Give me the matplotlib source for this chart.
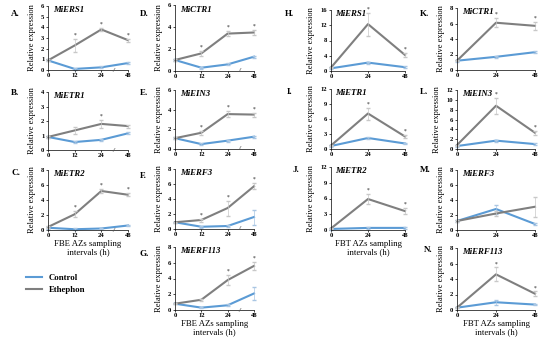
import matplotlib
matplotlib.use("Agg")
import matplotlib.pyplot as plt

plt.rcParams['font.family'] = ['Liberation Serif', 'DejaVu Serif']
plt.rcParams['font.weight'] = 'bold'

# sampling times
fbe_times = ['0', '12', '24', '48']
fbt_times = ['0', '24', '48']

# FBE panels (A-G): control, ethephon, errors
a_ctrl = [0.9, 0.1, 0.25, 0.65]
a_eth = [0.9, 2.3, 3.8, 2.8]
a_eth_err = [0.1, 0.6, 0.15, 0.15]
b_ctrl = [0.9, 0.55, 0.7, 1.15]
b_eth = [0.9, 1.35, 1.8, 1.65]
b_eth_err = [0.1, 0.25, 0.3, 0.1]
c_ctrl = [0.3, 0.1, 0.2, 0.6]
c_eth = [0.4, 2.1, 5.2, 4.7]
c_eth_err = [0.1, 0.4, 0.3, 0.2]
d_ctrl = [1.0, 0.3, 0.6, 1.3]
d_eth = [1.0, 1.6, 3.4, 3.5]
d_eth_err = [0.1, 0.2, 0.25, 0.25]
e_ctrl = [1.1, 0.5, 0.85, 1.25]
e_eth = [1.1, 1.65, 3.55, 3.5]
e_eth_err = [0.1, 0.2, 0.3, 0.2]
f_ctrl = [0.9, 0.3, 0.4, 1.6]
f_eth = [0.9, 1.2, 2.8, 5.7]
f_eth_err = [0.1, 0.2, 1.0, 0.4]
g_ctrl = [0.8, 0.3, 0.6, 2.1]
g_eth = [0.8, 1.3, 3.8, 5.6]
g_eth_err = [0.1, 0.1, 0.6, 0.5]

# FBT panels (H-N)
h_ctrl = [0.7, 2.2, 1.0]
h_eth = [0.9, 12.3, 4.2]
h_eth_err = [0.2, 3.0, 0.5]
i_ctrl = [0.6, 2.2, 1.1]
i_eth = [0.7, 7.1, 2.5]
i_eth_err = [0.1, 1.2, 0.3]
j_ctrl = [0.2, 0.4, 0.4]
j_eth = [0.3, 5.9, 3.6]
j_eth_err = [0.1, 1.0, 0.6]
k_ctrl = [1.2, 1.7, 2.3]
k_eth = [1.2, 6.1, 5.7]
k_eth_err = [0.1, 0.6, 0.5]
l_ctrl = [0.6, 1.7, 1.0]
l_eth = [0.8, 8.8, 3.3]
l_eth_err = [0.1, 1.6, 0.4]
m_ctrl = [1.2, 2.8, 0.8]
m_eth = [1.2, 2.2, 3.1]
m_eth_err = [0.1, 0.3, 1.3]
n_ctrl = [0.3, 1.0, 0.7]
n_eth = [0.3, 4.6, 2.1]
n_eth_err = [0.1, 0.9, 0.3]

blue = '#5b9bd5'
gray = '#7f7f7f'
W, H = 550, 339


def panel(fig, box, letter, letter_xy, gene, times, ctrl, eth, eth_err, ymax,
          ystep, stars, xlabel=False, brk=False, ctrl_err=None):
    x0, x1, ytop, ybot = box
    ax = fig.add_axes([x0 / W, 1 - ybot / H, (x1 - x0) / W, (ybot - ytop) / H])
    xs = list(range(len(times)))
    if ctrl_err is None:
        ctrl_err = [ymax * 0.015] * len(xs)
    ax.plot(xs, ctrl, color=blue, lw=1.5, clip_on=False)
    ax.errorbar(xs, ctrl, yerr=ctrl_err, fmt='none', ecolor='#a9c6e3',
                elinewidth=0.5, capsize=1.2, clip_on=False)
    ax.plot(xs, eth, color=gray, lw=1.5, clip_on=False)
    ax.errorbar(xs, eth, yerr=eth_err, fmt='none', ecolor='#c8c8c8',
                elinewidth=0.5, capsize=1.2, clip_on=False)
    for i in stars:
        ax.text(i, eth[i] + eth_err[i] + ymax * 0.02, '*', ha='center',
                va='bottom', fontsize=4, color='#555555')
    ax.set_xlim(0, len(times) - 1)
    ax.set_ylim(0, ymax)
    ax.set_xticks(xs)
    ax.set_xticklabels(times)
    ax.set_yticks(range(0, ymax + 1, ystep))
    ax.tick_params(labelsize=4.8, length=1.5, width=0.5, pad=1)
    for s in ['top', 'right']:
        ax.spines[s].set_visible(False)
    for s in ['left', 'bottom']:
        ax.spines[s].set_linewidth(0.5)
    ax.set_ylabel('Relative expression', fontsize=6, labelpad=4)
    ax.text(0.06, 0.93, gene, transform=ax.transAxes, fontsize=6.3,
            style='italic', va='center')
    fig.text(letter_xy[0] / W, 1 - letter_xy[1] / H, letter, fontsize=6.5,
             ha='left', va='center')
    if brk:
        ax.text(2.45, 0, '//', fontsize=4, ha='center', va='center',
                style='italic', color='#555555')
    if xlabel:
        lab = 'FBE' if len(times) == 4 else 'FBT'
        ax.set_xlabel(lab + ' AZs sampling\nintervals (h)', fontsize=6.3,
                      labelpad=1, linespacing=1.1)
    return ax


fig = plt.figure(figsize=(5.5, 3.39), dpi=100)

panel(fig, (48, 128, 6, 70), 'A.', (11, 14), 'MiERS1', fbe_times, a_ctrl, a_eth, a_eth_err, 6, 1, [1, 2, 3], brk=True)
panel(fig, (48, 128, 92, 150), 'B.', (11, 93), 'MiETR1', fbe_times, b_ctrl, b_eth, b_eth_err, 4, 1, [2], brk=True)
panel(fig, (48, 128, 170, 230), 'C.', (11, 173), 'MiETR2', fbe_times, c_ctrl, c_eth, c_eth_err, 8, 2, [1, 2, 3],
      xlabel=True, brk=True)
panel(fig, (175, 254, 5, 71), 'D.', (140, 14), 'MiCTR1', fbe_times, d_ctrl, d_eth, d_eth_err, 6, 2, [1, 2, 3], brk=True)
panel(fig, (175, 254, 90, 149), 'E.', (140, 93), 'MiEIN3', fbe_times, e_ctrl, e_eth, e_eth_err, 6, 2, [1, 2, 3], brk=True)
panel(fig, (175, 254, 169, 229), 'F.', (140, 176), 'MiERF3', fbe_times, f_ctrl, f_eth, f_eth_err, 8, 2, [1, 2, 3],
      brk=True, ctrl_err=[0.1, 0.1, 0.1, 1.0])
panel(fig, (175, 254, 247, 310), 'G.', (140, 254), 'MiERF113', fbe_times, g_ctrl, g_eth, g_eth_err, 8, 2, [2, 3],
      xlabel=True, brk=True, ctrl_err=[0.1, 0.1, 0.1, 0.8])

panel(fig, (331, 405, 10, 71), 'H.', (285, 14), 'MiERS1', fbt_times, h_ctrl, h_eth, h_eth_err, 16, 4, [1, 2])
panel(fig, (331, 405, 89, 149), 'I.', (287, 92), 'MiETR1', fbt_times, i_ctrl, i_eth, i_eth_err, 12, 3, [1, 2])
panel(fig, (331, 405, 167, 230), 'J.', (293, 170), 'MiETR2', fbt_times, j_ctrl, j_eth, j_eth_err, 12, 3, [1, 2],
      xlabel=True)
panel(fig, (457, 535, 8, 70), 'K.', (420, 14), 'MiCTR1', fbt_times, k_ctrl, k_eth, k_eth_err, 8, 2, [1, 2])
panel(fig, (457, 535, 90, 149), 'L.', (420, 92), 'MiEIN3', fbt_times, l_ctrl, l_eth, l_eth_err, 12, 2, [1, 2])
panel(fig, (457, 535, 170, 230), 'M.', (420, 170), 'MiERF3', fbt_times, m_ctrl, m_eth, m_eth_err, 8, 2, [],
      ctrl_err=[0.1, 0.6, 0.1])
panel(fig, (457, 535, 248, 310), 'N.', (424, 250), 'MiERF113', fbt_times, n_ctrl, n_eth, n_eth_err, 8, 2, [1, 2],
      xlabel=True, ctrl_err=[0.1, 0.3, 0.1])

# legend
fig.legend(handles=[plt.Line2D([], [], color=blue, lw=1.5),
                    plt.Line2D([], [], color=gray, lw=1.5)],
           labels=['Control', 'Ethephon'], loc='upper left',
           bbox_to_anchor=(18 / W, 1 - 266 / H), frameon=False,
           fontsize=6.3, handlelength=1.8, labelspacing=0.4)

fig.savefig('out.png', dpi=100)
